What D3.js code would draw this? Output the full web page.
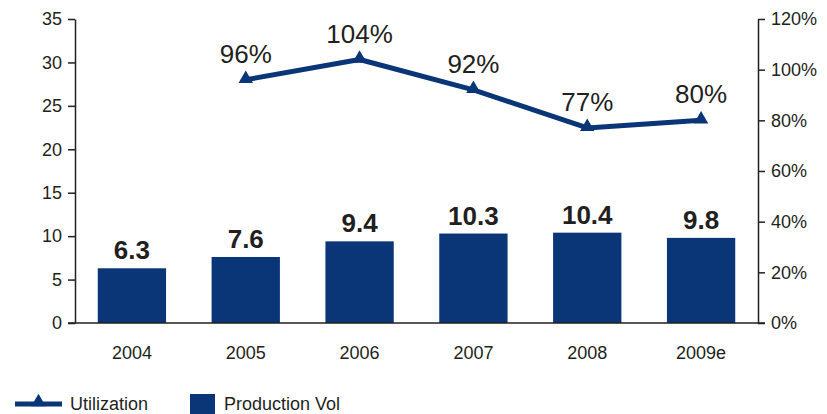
<!DOCTYPE html>
<html>
<head>
<meta charset="utf-8">
<script src="https://cdn.jsdelivr.net/npm/d3@7"></script>
<style>
  html, body { margin: 0; padding: 0; background: #fff; }
  svg { display: block; font-family: "Liberation Sans", Arial, sans-serif; }
</style>
</head>
<body>
<svg id="chart" width="827" height="414"></svg>
<script>
// Annual production volume (bars, left axis) and utilization (line, right axis)
const years = ["2004", "2005", "2006", "2007", "2008", "2009e"];
const productionVol = [6.3, 7.6, 9.4, 10.3, 10.4, 9.8];
const utilization = [null, 96, 104, 92, 77, 80];
const leftTicks = [0, 5, 10, 15, 20, 25, 30, 35];
const rightTicks = [0, 20, 40, 60, 80, 100, 120];

const navy = "#0a3577";
const ink = "#231f20";

const svg = d3.select("#chart");
const plotL = 75, plotR = 758, plotT = 19, plotB = 323;

const x = d3.scaleBand().domain(years).range([plotL, plotR]).paddingInner(0.4).paddingOuter(0.2);
const yL = d3.scaleLinear().domain([0, 35]).range([plotB, plotT]);
const yR = d3.scaleLinear().domain([0, 120]).range([plotB, plotT]);

const barData = years.map((y, i) => ({ year: y, v: productionVol[i] }));

// Bars
svg.append("g").selectAll("rect")
  .data(barData)
  .join("rect")
  .attr("x", d => x(d.year))
  .attr("width", x.bandwidth())
  .attr("y", d => yL(d.v))
  .attr("height", d => yL(0) - yL(d.v))
  .attr("fill", navy);

// Bar value labels
svg.append("g").selectAll("text")
  .data(barData)
  .join("text")
  .attr("x", d => x(d.year) + x.bandwidth() / 2)
  .attr("y", d => yL(d.v) - 9)
  .attr("text-anchor", "middle")
  .attr("font-size", 26)
  .attr("font-weight", "bold")
  .attr("fill", ink)
  .text(d => d.v.toFixed(1));

// Left axis
const axL = svg.append("g")
  .attr("transform", `translate(${plotL},0)`)
  .call(d3.axisLeft(yL).tickValues(leftTicks).tickSize(7).tickPadding(6).tickSizeOuter(0));
// Right axis
const axR = svg.append("g")
  .attr("transform", `translate(${plotR},0)`)
  .call(d3.axisRight(yR).tickValues(rightTicks).tickFormat(d => d + "%").tickSize(7).tickPadding(6).tickSizeOuter(0));
// Bottom axis
const axB = svg.append("g")
  .attr("transform", `translate(0,${plotB})`)
  .call(d3.axisBottom(x).tickSize(0).tickPadding(23).tickSizeOuter(0));

[axL, axR, axB].forEach(g => {
  g.selectAll("path.domain").attr("stroke", ink).attr("stroke-width", 1.5);
  g.selectAll(".tick line").attr("stroke", ink).attr("stroke-width", 1.5);
  g.selectAll(".tick text").attr("fill", ink).attr("font-size", 18)
    .attr("font-family", "Liberation Sans, Arial, sans-serif");
});
axB.select("path.domain").attr("d", `M${plotL - 7},0H${plotR + 7}`);

// Utilization line
const pts = years.map((y, i) => ({ year: y, v: utilization[i] })).filter(d => d.v !== null);
const line = d3.line()
  .x(d => x(d.year) + x.bandwidth() / 2)
  .y(d => yR(d.v));
svg.append("path")
  .datum(pts)
  .attr("d", line)
  .attr("fill", "none")
  .attr("stroke", navy)
  .attr("stroke-width", 5)
  .attr("stroke-linejoin", "round");

const tri = d3.symbol().type(d3.symbolTriangle).size(90);
svg.append("g").selectAll("path")
  .data(pts)
  .join("path")
  .attr("transform", d => `translate(${x(d.year) + x.bandwidth() / 2},${yR(d.v) - 1})`)
  .attr("d", tri)
  .attr("fill", navy);

svg.append("g").selectAll("text")
  .data(pts)
  .join("text")
  .attr("x", d => x(d.year) + x.bandwidth() / 2)
  .attr("y", d => yR(d.v) - 17)
  .attr("text-anchor", "middle")
  .attr("font-size", 26)
  .attr("fill", ink)
  .text(d => d.v + "%");

// Legend
const lg = svg.append("g").attr("transform", "translate(0,404)");
lg.append("line").attr("x1", 15).attr("x2", 62).attr("y1", 0).attr("y2", 0)
  .attr("stroke", navy).attr("stroke-width", 5);
lg.append("path").attr("transform", "translate(38.5,-2)").attr("d", tri).attr("fill", navy);
lg.append("text").attr("x", 70).attr("y", 6).attr("font-size", 18).attr("fill", ink).text("Utilization");
lg.append("rect").attr("x", 190).attr("y", -10).attr("width", 25).attr("height", 24).attr("fill", navy);
lg.append("text").attr("x", 224).attr("y", 6).attr("font-size", 18).attr("fill", ink).text("Production Vol");
</script>
</body>
</html>
